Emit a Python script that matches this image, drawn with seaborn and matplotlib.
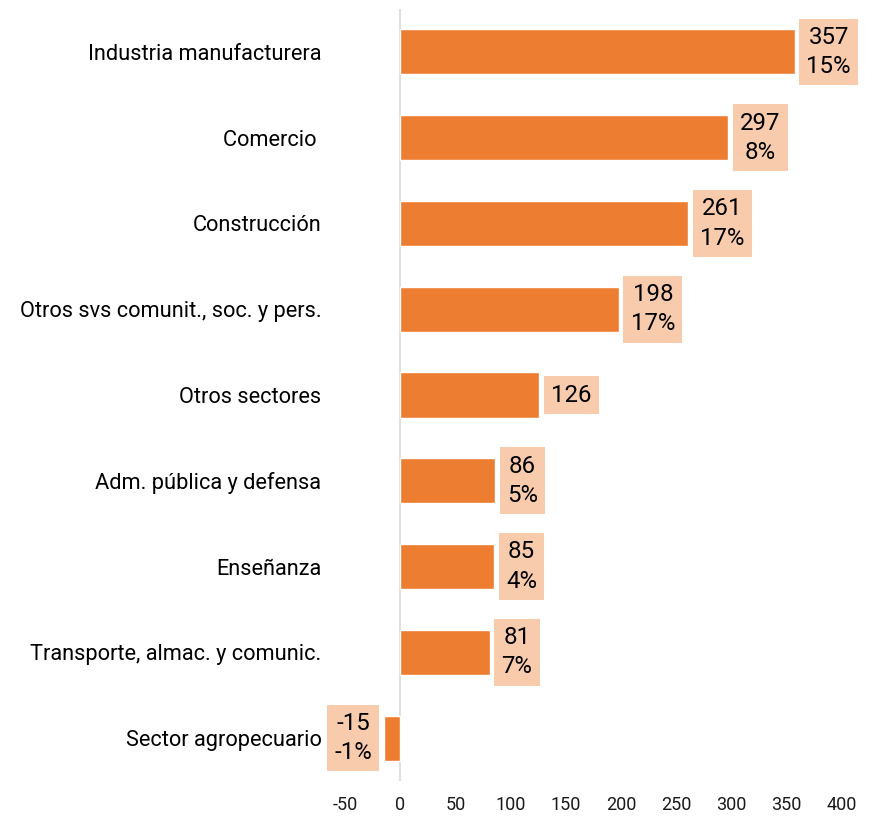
import matplotlib
matplotlib.use("Agg")
import matplotlib.pyplot as plt
import seaborn as sns
import pandas as pd

# Employment change by sector (thousands) and growth rate (%)
sectors = [
    "Industria manufacturera",
    "Comercio ",
    "Construcción",
    "Otros svs comunit., soc. y pers.",
    "Otros sectores",
    "Adm. pública y defensa",
    "Enseñanza",
    "Transporte, almac. y comunic.",
    "Sector agropecuario",
]
values = [357, 297, 261, 198, 126, 86, 85, 81, -15]
pct = [15, 8, 17, 17, None, 5, 4, 7, -1]
x_ticks = [-50, 0, 50, 100, 150, 200, 250, 300, 350, 400]

df = pd.DataFrame({"sector": sectors, "value": values})

sns.set_theme(style="white")
plt.rcParams["font.family"] = ["Roboto", "DejaVu Sans"]

bar_color = "#ED7D31"
box_color = "#F8CBAD"

fig = plt.figure(figsize=(8.72, 8.16), dpi=100)
ax = fig.add_axes([345 / 872, 1 - 781 / 816, (842 - 345) / 872, (781 - 9) / 816])

sns.barplot(data=df, y="sector", x="value", orient="h", color=bar_color,
            saturation=1, width=0.525, ax=ax)

ax.set_xlim(-50, 400)
ax.set_ylim(len(sectors) - 0.5, -0.5)
ax.set_xticks(x_ticks)
ax.set_xticklabels([str(t) for t in x_ticks])
ax.set_xlabel("")
ax.set_ylabel("")

for s in ax.spines.values():
    s.set_visible(False)
ax.axvline(0, color="#D9D9D9", lw=1.2, zorder=0)

ax.tick_params(axis="x", length=0, pad=11, labelsize=13, labelcolor="#1a1a1a")
ax.tick_params(axis="y", length=0, pad=17, labelsize=15.7, labelcolor="#000000")

# Value and percentage labels in shaded boxes at the end of each bar
for i, (v, p) in enumerate(zip(values, pct)):
    label = f"{v}" if p is None else f"{v}\n{p}%"
    sign = 1 if v >= 0 else -1
    ax.annotate(
        label,
        xy=(v, i),
        xytext=(sign * 8.5, 0),
        textcoords="offset points",
        ha="left" if v >= 0 else "right",
        va="center",
        multialignment="center",
        linespacing=1.35,
        fontsize=17.3,
        color="#000000",
        bbox=dict(boxstyle="square,pad=0.3", fc=box_color, ec="none"),
        annotation_clip=False,
    )

fig.savefig("out.png", dpi=100)
